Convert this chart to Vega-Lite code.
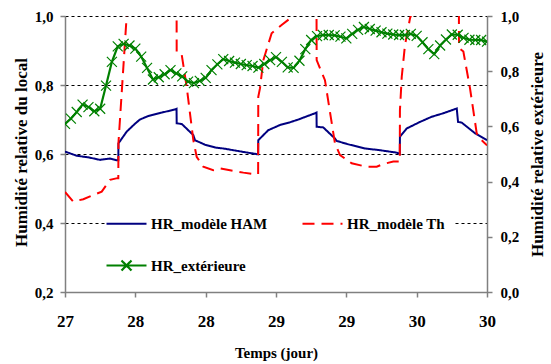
{
  "$schema": "https://vega.github.io/schema/vega-lite/v6.json",
  "width": 422,
  "height": 276,
  "autosize": {"type": "none"},
  "padding": {"left": 65, "top": 16, "right": 64, "bottom": 72},
  "background": "white",
  "config": {
    "view": {"stroke": null},
    "font": "Liberation Serif, Times New Roman, serif",
    "legend": {
      "orient": "none",
      "direction": "horizontal",
      "legendX": 40,
      "legendY": 186,
      "columns": 2,
      "columnPadding": 30,
      "rowPadding": 22,
      "padding": 10,
      "fillColor": "white",
      "strokeColor": null,
      "symbolType": "M-2,0H2",
      "symbolSize": 400,
      "symbolStrokeWidth": 2.2,
      "labelOffset": 13,
      "labelFont": "Liberation Serif, Times New Roman, serif",
      "labelFontWeight": "bold",
      "labelFontSize": 15,
      "labelColor": "black",
      "labelLimit": 300,
      "title": null
    }
  },
  "data": {"values": [
    {"s":"HR_modèle HAM","t":27.000,"v":0.607},{"s":"HR_modèle HAM","t":27.083,"v":0.595},{"s":"HR_modèle HAM","t":27.170,"v":0.590},{"s":"HR_modèle HAM","t":27.249,"v":0.583},{"s":"HR_modèle HAM","t":27.320,"v":0.587},{"s":"HR_modèle HAM","t":27.368,"v":0.582},{"s":"HR_modèle HAM","t":27.379,"v":0.582},{"s":"HR_modèle HAM","t":27.380,"v":0.631},{"s":"HR_modèle HAM","t":27.439,"v":0.665},{"s":"HR_modèle HAM","t":27.498,"v":0.688},{"s":"HR_modèle HAM","t":27.533,"v":0.700},{"s":"HR_modèle HAM","t":27.592,"v":0.710},{"s":"HR_modèle HAM","t":27.687,"v":0.720},{"s":"HR_modèle HAM","t":27.782,"v":0.729},{"s":"HR_modèle HAM","t":27.793,"v":0.731},{"s":"HR_modèle HAM","t":27.794,"v":0.689},{"s":"HR_modèle HAM","t":27.830,"v":0.687},{"s":"HR_modèle HAM","t":27.912,"v":0.655},{"s":"HR_modèle HAM","t":27.924,"v":0.640},{"s":"HR_modèle HAM","t":27.995,"v":0.627},{"s":"HR_modèle HAM","t":28.066,"v":0.619},{"s":"HR_modèle HAM","t":28.125,"v":0.616},{"s":"HR_modèle HAM","t":28.268,"v":0.606},{"s":"HR_modèle HAM","t":28.373,"v":0.599},{"s":"HR_modèle HAM","t":28.374,"v":0.640},{"s":"HR_modèle HAM","t":28.445,"v":0.669},{"s":"HR_modèle HAM","t":28.528,"v":0.684},{"s":"HR_modèle HAM","t":28.600,"v":0.692},{"s":"HR_modèle HAM","t":28.659,"v":0.700},{"s":"HR_modèle HAM","t":28.777,"v":0.718},{"s":"HR_modèle HAM","t":28.788,"v":0.720},{"s":"HR_modèle HAM","t":28.789,"v":0.679},{"s":"HR_modèle HAM","t":28.836,"v":0.677},{"s":"HR_modèle HAM","t":28.919,"v":0.645},{"s":"HR_modèle HAM","t":28.931,"v":0.638},{"s":"HR_modèle HAM","t":29.014,"v":0.628},{"s":"HR_modèle HAM","t":29.133,"v":0.616},{"s":"HR_modèle HAM","t":29.239,"v":0.611},{"s":"HR_modèle HAM","t":29.358,"v":0.604},{"s":"HR_modèle HAM","t":29.380,"v":0.600},{"s":"HR_modèle HAM","t":29.381,"v":0.650},{"s":"HR_modèle HAM","t":29.429,"v":0.674},{"s":"HR_modèle HAM","t":29.524,"v":0.693},{"s":"HR_modèle HAM","t":29.607,"v":0.708},{"s":"HR_modèle HAM","t":29.689,"v":0.718},{"s":"HR_modèle HAM","t":29.785,"v":0.732},{"s":"HR_modèle HAM","t":29.794,"v":0.693},{"s":"HR_modèle HAM","t":29.820,"v":0.691},{"s":"HR_modèle HAM","t":29.915,"v":0.660},{"s":"HR_modèle HAM","t":30.000,"v":0.640},
    {"s":"HR_modèle Th","t":27.000,"v":0.490},{"s":"HR_modèle Th","t":27.059,"v":0.462},{"s":"HR_modèle Th","t":27.130,"v":0.469},{"s":"HR_modèle Th","t":27.201,"v":0.481},{"s":"HR_modèle Th","t":27.261,"v":0.491},{"s":"HR_modèle Th","t":27.320,"v":0.525},{"s":"HR_modèle Th","t":27.372,"v":0.530},{"s":"HR_modèle Th","t":27.379,"v":0.530},{"s":"HR_modèle Th","t":27.380,"v":0.632},{"s":"HR_modèle Th","t":27.440,"v":1.01},{"s":"HR_modèle Th","t":27.533,"v":1.06},{"s":"HR_modèle Th","t":27.700,"v":1.08},{"s":"HR_modèle Th","t":27.793,"v":1.08},{"s":"HR_modèle Th","t":27.794,"v":0.893},{"s":"HR_modèle Th","t":27.830,"v":0.887},{"s":"HR_modèle Th","t":27.865,"v":0.795},{"s":"HR_modèle Th","t":27.912,"v":0.641},{"s":"HR_modèle Th","t":27.936,"v":0.592},{"s":"HR_modèle Th","t":27.983,"v":0.563},{"s":"HR_modèle Th","t":28.054,"v":0.553},{"s":"HR_modèle Th","t":28.102,"v":0.558},{"s":"HR_modèle Th","t":28.173,"v":0.553},{"s":"HR_modèle Th","t":28.268,"v":0.546},{"s":"HR_modèle Th","t":28.339,"v":0.542},{"s":"HR_modèle Th","t":28.373,"v":0.542},{"s":"HR_modèle Th","t":28.374,"v":0.766},{"s":"HR_modèle Th","t":28.386,"v":0.790},{"s":"HR_modèle Th","t":28.410,"v":0.872},{"s":"HR_modèle Th","t":28.469,"v":0.950},{"s":"HR_modèle Th","t":28.540,"v":0.974},{"s":"HR_modèle Th","t":28.600,"v":0.993},{"s":"HR_modèle Th","t":28.635,"v":1.003},{"s":"HR_modèle Th","t":28.706,"v":1.02},{"s":"HR_modèle Th","t":28.788,"v":1.03},{"s":"HR_modèle Th","t":28.789,"v":0.872},{"s":"HR_modèle Th","t":28.813,"v":0.848},{"s":"HR_modèle Th","t":28.848,"v":0.814},{"s":"HR_modèle Th","t":28.919,"v":0.631},{"s":"HR_modèle Th","t":28.955,"v":0.597},{"s":"HR_modèle Th","t":29.038,"v":0.573},{"s":"HR_modèle Th","t":29.144,"v":0.563},{"s":"HR_modèle Th","t":29.216,"v":0.563},{"s":"HR_modèle Th","t":29.263,"v":0.571},{"s":"HR_modèle Th","t":29.334,"v":0.578},{"s":"HR_modèle Th","t":29.380,"v":0.578},{"s":"HR_modèle Th","t":29.381,"v":0.727},{"s":"HR_modèle Th","t":29.394,"v":0.824},{"s":"HR_modèle Th","t":29.417,"v":0.916},{"s":"HR_modèle Th","t":29.453,"v":0.994},{"s":"HR_modèle Th","t":29.467,"v":1.01},{"s":"HR_modèle Th","t":29.595,"v":1.05},{"s":"HR_modèle Th","t":29.800,"v":1.05},{"s":"HR_modèle Th","t":29.801,"v":0.907},{"s":"HR_modèle Th","t":29.832,"v":0.897},{"s":"HR_modèle Th","t":29.879,"v":0.791},{"s":"HR_modèle Th","t":29.927,"v":0.660},{"s":"HR_modèle Th","t":29.950,"v":0.645},{"s":"HR_modèle Th","t":30.000,"v":0.625},
    {"s":"HR_extérieure","t":27.0000,"v":0.609},{"s":"HR_extérieure","t":27.0417,"v":0.628},{"s":"HR_extérieure","t":27.0833,"v":0.652},{"s":"HR_extérieure","t":27.1250,"v":0.679},{"s":"HR_extérieure","t":27.1667,"v":0.670},{"s":"HR_extérieure","t":27.2083,"v":0.655},{"s":"HR_extérieure","t":27.2500,"v":0.664},{"s":"HR_extérieure","t":27.2917,"v":0.748},{"s":"HR_extérieure","t":27.3333,"v":0.834},{"s":"HR_extérieure","t":27.3750,"v":0.890},{"s":"HR_extérieure","t":27.4167,"v":0.899},{"s":"HR_extérieure","t":27.4583,"v":0.893},{"s":"HR_extérieure","t":27.5000,"v":0.882},{"s":"HR_extérieure","t":27.5417,"v":0.853},{"s":"HR_extérieure","t":27.5833,"v":0.812},{"s":"HR_extérieure","t":27.6250,"v":0.770},{"s":"HR_extérieure","t":27.6667,"v":0.778},{"s":"HR_extérieure","t":27.7083,"v":0.789},{"s":"HR_extérieure","t":27.7500,"v":0.804},{"s":"HR_extérieure","t":27.7917,"v":0.792},{"s":"HR_extérieure","t":27.8333,"v":0.781},{"s":"HR_extérieure","t":27.8750,"v":0.762},{"s":"HR_extérieure","t":27.9167,"v":0.757},{"s":"HR_extérieure","t":27.9583,"v":0.765},
    {"s":"HR_extérieure","t":28.0000,"v":0.776},{"s":"HR_extérieure","t":28.0417,"v":0.804},{"s":"HR_extérieure","t":28.0833,"v":0.825},{"s":"HR_extérieure","t":28.1250,"v":0.844},{"s":"HR_extérieure","t":28.1667,"v":0.837},{"s":"HR_extérieure","t":28.2083,"v":0.831},{"s":"HR_extérieure","t":28.2500,"v":0.826},{"s":"HR_extérieure","t":28.2917,"v":0.822},{"s":"HR_extérieure","t":28.3333,"v":0.819},{"s":"HR_extérieure","t":28.3750,"v":0.813},{"s":"HR_extérieure","t":28.4167,"v":0.826},{"s":"HR_extérieure","t":28.4583,"v":0.840},{"s":"HR_extérieure","t":28.5000,"v":0.851},{"s":"HR_extérieure","t":28.5417,"v":0.834},{"s":"HR_extérieure","t":28.5833,"v":0.814},{"s":"HR_extérieure","t":28.6250,"v":0.812},{"s":"HR_extérieure","t":28.6667,"v":0.838},{"s":"HR_extérieure","t":28.7083,"v":0.880},{"s":"HR_extérieure","t":28.7500,"v":0.913},{"s":"HR_extérieure","t":28.7917,"v":0.927},{"s":"HR_extérieure","t":28.8333,"v":0.931},{"s":"HR_extérieure","t":28.8750,"v":0.931},{"s":"HR_extérieure","t":28.9167,"v":0.930},{"s":"HR_extérieure","t":28.9583,"v":0.925},
    {"s":"HR_extérieure","t":29.0000,"v":0.919},{"s":"HR_extérieure","t":29.0417,"v":0.935},{"s":"HR_extérieure","t":29.0833,"v":0.950},{"s":"HR_extérieure","t":29.1250,"v":0.960},{"s":"HR_extérieure","t":29.1667,"v":0.953},{"s":"HR_extérieure","t":29.2083,"v":0.947},{"s":"HR_extérieure","t":29.2500,"v":0.941},{"s":"HR_extérieure","t":29.2917,"v":0.936},{"s":"HR_extérieure","t":29.3333,"v":0.933},{"s":"HR_extérieure","t":29.3750,"v":0.931},{"s":"HR_extérieure","t":29.4167,"v":0.931},{"s":"HR_extérieure","t":29.4583,"v":0.935},{"s":"HR_extérieure","t":29.5000,"v":0.928},{"s":"HR_extérieure","t":29.5417,"v":0.905},{"s":"HR_extérieure","t":29.5833,"v":0.880},{"s":"HR_extérieure","t":29.6250,"v":0.862},{"s":"HR_extérieure","t":29.6667,"v":0.893},{"s":"HR_extérieure","t":29.7083,"v":0.915},{"s":"HR_extérieure","t":29.7500,"v":0.933},{"s":"HR_extérieure","t":29.7917,"v":0.932},{"s":"HR_extérieure","t":29.8333,"v":0.921},{"s":"HR_extérieure","t":29.8750,"v":0.914},{"s":"HR_extérieure","t":29.9167,"v":0.913},{"s":"HR_extérieure","t":29.9583,"v":0.913},{"s":"HR_extérieure","t":30.0000,"v":0.907}
  ]},
  "encoding": {
    "x": {
      "field": "t", "type": "quantitative",
      "scale": {"domain": [27, 30], "nice": false, "zero": false},
      "axis": {
        "values": [27, 27.5, 28, 28.5, 29, 29.5, 30],
        "labelExpr": "format(datum.value, '.0f')",
        "title": "Temps (jour)",
        "grid": false,
        "domainColor": "#808080", "domainWidth": 1.5,
        "tickColor": "#808080", "tickSize": 5, "tickWidth": 1.5,
        "labelFont": "Liberation Serif, Times New Roman, serif", "labelFontWeight": "bold", "labelFontSize": 17, "labelColor": "black",
        "labelPadding": 16, "labelFlush": false, "labelOverlap": false,
        "titleFont": "Liberation Serif, Times New Roman, serif", "titleFontWeight": "bold", "titleFontSize": 15, "titleColor": "black",
        "titleY": 60, "titleBaseline": "middle"
      }
    }
  },
  "layer": [
    {
      "transform": [{"filter": "datum.s !== 'HR_extérieure'"}],
      "mark": {"type": "line", "strokeWidth": 2, "clip": true},
      "encoding": {
        "y": {
          "field": "v", "type": "quantitative",
          "scale": {"domain": [0.2, 1.0], "nice": false, "zero": false},
          "axis": {
            "orient": "left",
            "values": [0.2, 0.4, 0.6, 0.8, 1.0],
            "labelExpr": "replace(format(datum.value, '.1f'), '.', ',')",
            "title": "Humidité relative du local",
            "grid": true, "gridColor": "#000000", "gridDash": [3, 3], "gridWidth": 1,
            "domainColor": "#808080", "domainWidth": 1.5,
            "tickColor": "#808080", "tickSize": 5, "tickWidth": 1.5,
            "labelFont": "Liberation Serif, Times New Roman, serif", "labelFontWeight": "bold", "labelFontSize": 15, "labelColor": "black",
            "labelPadding": 7,
            "titleFont": "Liberation Serif, Times New Roman, serif", "titleFontWeight": "bold", "titleFontSize": 17, "titleColor": "black",
            "titleX": -44, "titleY": 136, "titleAngle": -90, "titleAlign": "center", "titleBaseline": "middle"
          }
        },
        "color": {
          "field": "s", "type": "nominal",
          "scale": {"domain": ["HR_modèle HAM", "HR_modèle Th", "HR_extérieure"], "range": ["#000080", "#FF0000", "#008000"]},
          "legend": {
            "direction": "horizontal",
            "values": ["HR_modèle HAM", "HR_modèle Th", "HR_extérieure"],
            "encode": {
              "symbols": {
                "update": {
                  "shape": {"signal": "datum.value === 'HR_extérieure' ? 'M-2,0H2M-0.5,-0.5L0.5,0.5M0.5,-0.5L-0.5,0.5' : 'M-2,0H2'"},
                  "strokeDash": {"signal": "datum.value === 'HR_modèle Th' ? [12, 7] : [1, 0]"}
                }
              }
            }
          }
        },
        "strokeDash": {
          "field": "s", "type": "nominal",
          "scale": {"domain": ["HR_modèle HAM", "HR_modèle Th", "HR_extérieure"], "range": [[1, 0], [12, 7], [1, 0]]},
          "legend": null
        }
      }
    },
    {
      "transform": [{"filter": "datum.s === 'HR_extérieure'"}],
      "encoding": {
        "y": {
          "field": "v", "type": "quantitative",
          "scale": {"domain": [0, 1.0], "nice": false, "zero": false},
          "axis": {
            "orient": "right",
            "values": [0, 0.2, 0.4, 0.6, 0.8, 1.0],
            "labelExpr": "replace(format(datum.value, '.1f'), '.', ',')",
            "title": "Humidité relative extérieure",
            "grid": false,
            "domainColor": "#808080", "domainWidth": 1.5,
            "tickColor": "#808080", "tickSize": 5, "tickWidth": 1.5,
            "labelFont": "Liberation Serif, Times New Roman, serif", "labelFontWeight": "bold", "labelFontSize": 15, "labelColor": "black",
            "labelPadding": 8,
            "titleFont": "Liberation Serif, Times New Roman, serif", "titleFontWeight": "bold", "titleFontSize": 17, "titleColor": "black",
            "titleX": 50, "titleY": 138, "titleAngle": -90, "titleAlign": "center", "titleBaseline": "middle"
          }
        }
      },
      "layer": [
        {
          "mark": {"type": "line", "strokeWidth": 2.2, "clip": true},
          "encoding": {
            "color": {
              "field": "s", "type": "nominal",
              "scale": {"domain": ["HR_modèle HAM", "HR_modèle Th", "HR_extérieure"], "range": ["#000080", "#FF0000", "#008000"]}
            }
          }
        },
        {
          "mark": {"type": "point", "shape": "M-1,-1L1,1M1,-1L-1,1", "size": 100, "filled": false, "color": "#008000", "strokeWidth": 1.2, "opacity": 1, "clip": true}
        }
      ]
    }
  ],
  "resolve": {"scale": {"y": "independent"}}
}
